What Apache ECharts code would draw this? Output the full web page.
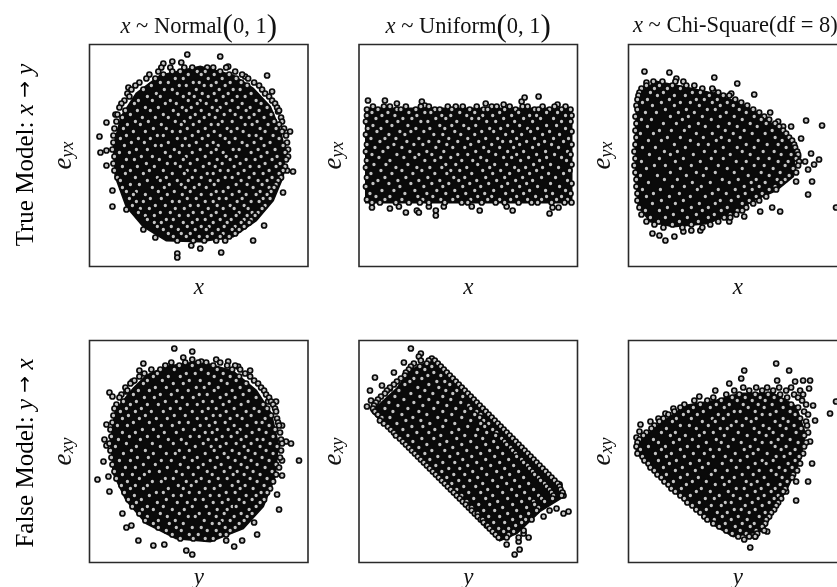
<!DOCTYPE html>
<html><head><meta charset="utf-8">
<style>html,body{margin:0;padding:0;background:#fff;overflow:hidden}#c{width:837px;height:587px}</style>
<script src="https://cdn.jsdelivr.net/npm/echarts@6/dist/echarts.min.js"></script>
</head><body><div id="c"></div>
<script>
const titles=["{i|x}{n| ~ Normal}{p|(}{n|0, 1}{p|)}","{i|x}{n| ~ Uniform}{p|(}{n|0, 1}{p|)}","{i|x}{n| ~ Chi-Square(df = 8)}"];
const rowLabels=["{n|True Model: }{i|x}{a| → }{i|y}","{n|False Model: }{i|y}{a| → }{i|x}"];
const xNames=["x","y"];
const yNames=["{e|e}{s|yx}","{e|e}{s|xy}"];

const hullA=[[71,31],[111,22],[144,31],[164,44],[181,62],[191,86],[196,106],[194,132],[184,156],[167,176],[144,192],[111,197],[77,196],[54,182],[37,162],[26,132],[24,102],[32,72],[47,49]];
const looseA=[[98,10],[131,12],[74,19],[83,17],[92,18],[139,22],[156,32],[178,31],[39,43],[183,47],[189,67],[26,70],[17,78],[201,87],[10,92],[11,108],[17,106],[17,121],[194,148],[23,146],[23,162],[37,165],[54,185],[66,193],[175,181],[164,196],[88,209],[88,213],[111,204],[132,208],[102,201],[204,127],[198,126]];
const rowsA=[[23,72,81,95,103,118,124,137],[27,69,83,91,108,116,131,146],[30,60,74,99,112,125,140,153],[34,57,66,86,94,119,133,147,159],[38,50,71,79,104,110,127,141,152,165],[41,46,62,90,97,115,122,136,158,170],[45,42,54,75,83,107,130,144,151,173],[49,38,67,88,100,113,125,139,162,176],[52,40,58,71,94,105,119,134,148,156,180],[56,35,49,63,81,99,111,127,143,167,183],[59,32,45,76,87,108,117,137,153,172,186],[63,30,56,69,93,102,123,131,149,161,178,188],[66,36,48,61,84,97,112,128,141,157,170,190],[70,28,41,74,89,106,120,135,146,165,182],[73,33,53,66,79,101,115,126,152,160,175,192],[77,27,46,59,86,95,110,133,143,168,185,193],[80,38,51,72,92,104,122,129,156,163,179,190],[84,25,34,64,77,98,116,138,148,171,187,195],[87,44,56,83,91,109,125,142,154,176,193],[91,24,37,68,74,103,119,131,160,167,184,197],[94,31,49,61,88,96,113,136,146,172,190],[98,24,42,55,79,107,124,140,153,165,181,198],[101,35,66,72,93,100,118,129,158,175,194],[105,23,47,58,85,111,127,144,150,169,186,199],[108,30,40,76,90,103,122,134,162,178,196],[112,25,52,63,81,97,116,137,147,172,188,199],[115,37,45,70,94,108,128,141,157,166,183,197],[119,24,57,78,86,101,120,133,151,176,191],[122,33,48,65,91,114,126,145,161,170,187,196],[126,25,41,60,74,98,106,131,139,155,180,194],[129,36,54,83,95,118,124,149,165,174,190],[133,28,46,68,77,103,112,136,143,160,183,192],[136,31,58,71,88,99,121,129,152,169,178,189],[140,41,50,80,92,110,125,147,158,173,187],[143,33,63,75,96,105,117,139,164,180,185],[147,37,47,69,85,101,127,134,150,171,182],[150,44,56,78,93,112,122,143,157,167,178],[154,40,61,72,98,107,130,137,153,174,181],[157,47,54,83,90,116,124,148,162,170],[161,43,66,76,101,109,128,141,155,176],[164,51,60,86,95,119,134,145,159,173],[168,49,71,81,104,113,127,150,163,169],[171,56,65,90,99,122,136,147,158,166],[175,58,77,84,108,116,131,142,155,162],[178,65,72,94,103,124,138,152,160],[182,68,82,98,112,120,135,146,155],[185,74,89,106,117,129,143,150],[189,79,92,101,123,134,146],[192,84,97,110,118,131,140],[196,88,104,115,127,136]];

const hullB=[[7,64],[213,64],[213,158],[7,158]];
const looseB=[[9,56],[26,56],[38,59],[63,57],[66,61],[127,59],[145,60],[163,57],[166,53],[180,52],[199,60],[13,163],[31,164],[40,162],[47,168],[58,166],[60,168],[70,162],[77,171],[77,166],[85,162],[121,166],[154,166],[191,169],[200,163],[194,163],[113,162],[148,162]];
const rowsB=[[62,14,25,31,47,62,70,89,97,104,118,133,138,151,164,169,184,196,207],[65,8,19,38,42,57,76,81,93,111,125,129,146,157,176,180,191,203,212],[68,13,29,50,66,72,101,116,141,160,188,199],[71,8,23,36,58,83,92,108,124,134,153,171,178,207,213],[74,17,44,53,77,87,113,120,145,165,182,195],[77,7,28,39,62,69,98,128,137,156,174,203,212],[81,14,33,49,81,93,105,117,149,161,188,198],[84,9,22,57,71,86,110,131,142,169,179,207],[87,18,41,52,65,96,123,135,154,172,191,213],[90,7,30,46,75,84,102,116,147,163,184,201],[94,12,26,37,60,90,109,127,139,158,176,195,210],[97,21,48,70,80,99,120,144,152,168,186,205],[100,8,35,55,64,88,112,133,161,180,193,213],[103,16,29,43,77,94,106,125,141,155,174,200],[107,7,24,51,68,85,117,130,149,165,187,209],[110,13,38,60,73,99,109,137,158,178,196,212],[113,20,45,56,82,92,122,145,153,170,188,203],[116,8,31,66,76,103,114,128,162,181,208],[120,15,27,49,87,97,119,136,148,175,192,213],[123,7,37,58,71,83,108,131,156,167,184,200],[126,22,43,63,92,101,124,142,160,178,211],[129,12,33,54,76,88,113,134,151,171,190,205],[133,8,26,47,69,95,106,127,146,164,183,197],[136,19,39,60,81,100,118,138,157,174,209],[139,14,30,52,73,90,111,130,149,168,192,213],[142,7,41,65,84,104,122,143,161,179,201],[146,23,35,56,78,96,116,135,154,171,187,207],[149,11,46,68,87,107,126,147,165,194,212],[152,17,31,59,74,99,119,133,158,177,188,203],[155,8,26,43,64,82,94,112,129,141,152,169,183,198,209],[158,13,21,37,50,61,70,86,103,109,123,137,146,160,173,179,193,206,213]];

const hullC=[[8,66],[13,47],[28,37],[58,43],[85,49],[112,59],[135,72],[155,89],[167,106],[165,132],[148,146],[125,156],[105,169],[78,179],[45,182],[22,177],[10,162],[7,129],[7,96]];
const looseC=[[16,27],[41,28],[86,33],[109,39],[126,50],[142,68],[178,76],[194,81],[173,94],[183,109],[191,115],[186,120],[180,125],[184,137],[180,150],[208,163],[152,167],[144,163],[116,172],[101,177],[72,186],[63,186],[55,187],[46,192],[37,196],[31,191],[24,189],[168,137],[132,167],[170,112],[177,117],[163,82],[155,82],[150,77],[103,49],[85,46],[48,34],[18,38]];
const rowsC=[[37,25,34,47,55],[41,18,31,44,58,66],[44,13,26,39,52,74,84],[48,11,22,35,64,72,90],[51,10,29,46,57,81,95,101],[55,9,19,41,68,76,89,107],[58,14,33,52,62,84,99,113],[61,8,24,46,71,92,105,119],[65,9,37,58,79,87,111,125],[68,17,28,50,66,98,118,131],[72,7,42,60,74,92,106,126,136],[75,13,23,54,83,114,133,141],[79,8,35,48,70,101,122,138,147],[82,19,61,77,90,109,129,151],[86,7,31,43,56,97,116,144,155],[89,12,25,68,84,105,124,137,158],[93,8,39,52,75,93,112,147,161],[96,20,33,62,88,101,130,154,164],[100,7,46,70,80,118,139,150,166],[103,14,27,57,95,109,126,158,167],[107,6,36,49,76,87,114,135,146,169],[110,21,42,65,102,122,153,163,170],[114,7,31,55,83,95,130,141,168],[117,13,47,72,108,118,150,160,171],[121,6,26,37,63,90,126,136,157,170],[124,18,52,78,99,114,145,165],[128,7,42,68,87,106,133,152,168],[131,12,29,58,75,120,141,161],[135,8,36,49,94,110,128,149,157],[138,20,64,82,101,123,137,153],[142,8,44,56,73,116,131,147],[145,14,32,69,90,107,124,141,148],[149,9,25,51,84,98,117,134],[152,18,41,62,77,110,128,138],[156,9,33,55,92,103,121,131],[159,24,47,71,87,114,125],[163,11,39,63,80,99,118],[166,17,31,54,74,93,109,114],[170,13,45,68,86,102,108],[173,22,37,59,80,96,102],[177,18,30,51,70,90],[180,26,44,63,82],[183,35,54,74]];

const hullD=[[77,26],[111,21],[144,31],[167,50],[182,73],[189,103],[186,136],[174,166],[154,188],[121,201],[87,198],[57,183],[37,160],[24,133],[21,100],[26,70],[44,48],[57,35]];
const looseD=[[85,8],[103,11],[94,17],[103,19],[112,21],[127,19],[139,21],[149,26],[161,30],[54,23],[50,30],[43,41],[20,52],[23,56],[37,51],[187,61],[179,61],[17,84],[15,99],[17,105],[193,85],[202,103],[197,101],[210,120],[193,120],[14,121],[8,139],[19,136],[20,151],[193,135],[188,154],[190,169],[33,173],[37,187],[42,185],[165,182],[168,194],[153,200],[145,206],[49,200],[64,205],[75,204],[103,214],[97,210],[137,200]];
const rowsD=[[22,82,96,109,117,131],[25,76,90,103,124,138,146],[29,62,71,85,112,128,143,151],[33,55,68,97,106,119,134,156],[36,50,64,79,91,125,141,150,161],[40,45,58,73,100,111,132,147,165],[43,41,54,84,94,120,138,157,169],[47,36,66,77,107,115,129,151,172],[50,38,49,60,88,99,125,143,160,175],[54,32,44,71,82,110,118,137,154,177],[57,30,55,65,93,104,131,146,167,180],[61,34,47,76,87,114,123,140,159,182],[64,27,41,58,69,98,108,134,152,174,184],[68,25,37,52,81,91,119,127,145,165,178,186],[71,31,46,62,74,103,113,137,157,170,187],[75,24,39,56,85,96,124,131,148,162,182],[78,33,50,67,78,108,117,141,153,176,188],[82,23,44,60,90,99,126,136,167,173,189],[85,28,38,72,83,111,120,145,158,180,190],[89,21,53,64,94,105,128,139,151,170,186],[92,33,46,75,87,116,123,148,163,177,191],[96,22,40,58,69,101,110,133,142,157,184],[99,29,51,79,92,119,127,152,168,174,192],[103,20,37,63,84,97,114,137,147,162,181,193],[106,26,47,71,106,122,131,155,171,188],[110,21,42,56,90,100,125,143,159,177,192],[113,34,64,77,86,116,135,150,166,184],[117,22,48,59,95,108,128,139,156,173,191],[120,30,41,72,82,103,121,146,162,180],[124,23,54,66,91,114,132,152,168,187],[127,36,46,78,99,109,126,141,158,176,190],[131,25,60,70,87,118,135,148,164,183],[134,33,43,55,93,104,123,144,155,171,187],[138,27,50,76,84,112,129,138,161,178],[141,38,63,72,97,107,120,149,168,184],[145,32,46,58,89,102,131,143,156,175],[148,41,54,79,94,116,125,151,164,181],[152,35,67,74,100,110,137,146,172,178],[155,45,60,84,92,121,130,157,167],[159,39,52,77,106,114,139,150,163,175],[162,47,68,88,98,124,133,155,171],[166,43,58,74,103,117,143,147,167],[169,53,64,83,95,128,138,160],[173,50,71,90,110,120,135,152,163],[176,58,78,99,106,127,145,158],[180,56,69,86,115,133,141,155],[183,64,80,94,123,130,150],[187,69,87,103,112,136,146],[190,77,92,118,127,141],[194,83,100,109,131,137],[198,91,104,116,124]];

const hullE=[[13,71],[38,48],[51,30],[74,19],[201,144],[205,156],[181,171],[158,193],[141,200]];
const looseE=[[8,66],[12,60],[11,50],[16,37],[23,45],[31,48],[35,32],[45,22],[52,8],[62,13],[60,16],[73,18],[205,173],[210,171],[205,155],[201,144],[198,168],[191,170],[185,176],[173,179],[170,197],[165,193],[165,190],[160,201],[160,197],[148,204],[161,209],[156,214]];
const rowsE=[[20,62,70,76],[23,55,68,79],[26,52,61,73,82],[29,50,66,85],[32,47,58,75,88],[35,46,69,82,91],[38,42,55,63,94],[41,38,51,78,86,97],[44,35,46,70,91,100],[47,31,59,80,103],[50,28,40,66,87,98,106],[53,26,52,74,94,109],[56,22,36,61,84,104,112],[59,19,45,70,92,115],[62,17,30,55,79,102,118],[65,15,39,64,88,110,121],[68,14,26,49,75,97,112,124],[71,16,34,60,84,106,118,127],[74,19,43,68,93,116,122,130],[77,23,31,54,79,103,121,133],[80,21,47,62,87,112,125,136],[83,25,38,71,96,122,130,139],[86,29,53,64,84,109,126,142],[89,32,44,76,100,119,134,145],[92,35,58,70,93,128,138,148],[95,37,49,82,106,117,137,151],[98,41,63,75,98,124,143,154],[101,44,54,88,112,135,146,157],[104,47,68,81,103,127,148,160],[107,50,60,94,118,139,152,163],[110,53,73,86,108,131,154,166],[113,56,66,99,122,144,157,169],[116,59,79,91,113,136,158,172],[119,62,71,104,127,150,163,175],[122,65,84,96,118,141,165,178],[125,68,77,109,132,155,169,181],[128,71,90,101,123,146,171,184],[131,74,83,114,138,160,174,187],[134,77,95,106,128,151,176,190],[137,80,88,119,143,165,180,193],[140,83,100,111,134,156,182,196],[143,86,93,124,148,170,186,199],[146,89,105,117,139,161,188,201],[149,92,98,129,153,175,191,202],[152,95,110,122,144,166,193,204],[155,98,103,134,158,180,195,203],[158,101,115,127,149,171,183,194],[161,104,108,139,163,175,186],[164,107,120,131,154,176],[167,110,113,144,168,180],[170,113,125,136,158,178],[173,116,119,149,170],[176,119,130,141,162],[179,122,124,154,167],[182,125,135,146,163],[185,128,129,157],[188,131,140,150],[191,134,145,155],[194,137,150],[197,140,148]];

const hullF=[[10,103],[28,86],[58,65],[88,60],[112,53],[145,53],[168,66],[177,93],[172,120],[158,150],[145,170],[135,190],[105,196],[88,186],[45,150],[15,120],[8,110]];
const looseF=[[148,23],[161,30],[116,30],[113,38],[149,40],[167,41],[175,40],[182,40],[181,48],[101,43],[87,50],[71,56],[45,68],[37,73],[30,78],[22,81],[12,84],[11,91],[8,97],[202,73],[208,61],[187,80],[185,65],[182,101],[184,123],[180,141],[168,141],[168,160],[139,191],[127,196],[116,199],[122,207],[158,151]];
const rowsF=[[47,115,128,139,151,163],[50,106,121,134,145,158,172],[54,98,111,127,140,152,166,175],[57,85,104,117,132,146,159,170],[60,66,79,93,109,124,137,153,174],[64,56,72,88,101,115,130,144,163,178],[67,52,65,82,96,120,136,155,170],[71,46,60,75,106,112,127,148,162,176],[74,40,55,69,90,100,134,142,167,180],[78,35,48,63,84,95,118,128,155,172],[81,31,44,74,87,108,123,147,160,178],[85,26,52,61,80,103,114,135,152,166,179],[88,23,38,68,92,99,126,141,158,173],[92,18,33,47,76,85,110,131,145,168,180],[95,15,42,57,71,96,119,138,154,176],[99,11,25,51,64,88,105,127,150,162],[102,9,30,45,78,93,113,134,143,170,178],[106,8,20,37,59,70,100,122,147,158,176],[109,12,33,52,82,91,116,130,153,167],[113,9,27,43,65,76,107,125,139,162,175],[116,14,38,56,85,97,119,148,156,171],[120,16,30,48,71,103,112,134,145,167],[123,20,41,62,80,94,127,138,160,172],[127,22,35,54,74,108,120,151,164],[130,26,47,67,87,99,131,143,157,169],[134,29,38,59,83,114,125,148,165],[137,33,52,70,94,106,136,154,164],[141,36,45,64,78,101,118,129,159],[144,40,58,87,96,123,140,152],[148,43,53,73,108,116,133,147,157],[151,47,68,82,100,127,143,155],[155,52,62,91,105,119,136,150],[158,56,77,86,112,130,146,153],[162,59,71,97,103,124,141,150],[165,64,83,93,117,134,148],[169,68,78,106,113,127,146],[172,72,89,99,121,137,143],[176,76,94,110,131,141],[179,79,86,103,119,138],[183,85,97,114,126,137],[186,91,107,122,134],[190,98,112,128,136],[193,104,118,129],[196,110,121,127]];

const panels=[
 {hull:hullA,loose:looseA,rows:rowsA},{hull:hullB,loose:looseB,rows:rowsB},{hull:hullC,loose:looseC,rows:rowsC},
 {hull:hullD,loose:looseD,rows:rowsD},{hull:hullE,loose:looseE,rows:rowsE},{hull:hullF,loose:looseF,rows:rowsF}];
const lefts=[89.5,359,628.5], tops=[44.5,340.5], W=218.5, H=222;
const serif='"Liberation Serif","Times New Roman",serif', ink='#111';
const grid=[],xAxis=[],yAxis=[],series=[],title=[];
panels.forEach((p,k)=>{
 const c=k%3,r=k<3?0:1;
 grid.push({left:lefts[c],top:tops[r],width:W,height:H,show:true,borderColor:'#2a2a2a',borderWidth:1.6,backgroundColor:'#fff',outerBoundsMode:'none',containLabel:false});
 const none={axisLine:{show:false},axisTick:{show:false},axisLabel:{show:false},splitLine:{show:false}};
 xAxis.push({gridIndex:k,type:'value',min:0,max:219,...none,name:xNames[r],nameLocation:'middle',nameGap:r?4:10,
   nameTextStyle:{fontFamily:serif,fontStyle:'italic',fontSize:23,color:ink}});
 yAxis.push({gridIndex:k,type:'value',min:0,max:222,inverse:true,...none,name:yNames[r],nameLocation:'middle',nameRotate:90,nameGap:12,
   nameTextStyle:{rich:{e:{fontFamily:serif,fontStyle:'italic',fontSize:27,color:ink},s:{fontFamily:serif,fontStyle:'italic',fontSize:18,color:ink,verticalAlign:'bottom',padding:[8,0,0,0]}}}});
 series.push({type:'custom',xAxisIndex:k,yAxisIndex:k,silent:true,z:2,clip:false,data:p.hull,
   renderItem(params,api){ if(params.dataIndex!==0) return; 
     return {type:'polygon',shape:{points:p.hull.map(q=>api.coord(q))},style:{fill:'#0a0a0a',stroke:'#0a0a0a',lineWidth:2}}; }});
 const pts=p.loose.concat(p.rows.flatMap(row=>row.slice(1).map(x=>[x,row[0]])));
 series.push({type:'scatter',xAxisIndex:k,yAxisIndex:k,silent:true,z:3,clip:false,data:pts,symbol:'circle',symbolSize:5,large:false,
   itemStyle:{color:'#c4c4c4',borderColor:'#0a0a0a',borderWidth:1.7,opacity:1}});
});
const titleRich={n:{fontFamily:serif,fontWeight:'normal',fontSize:22.5,color:ink},i:{fontFamily:serif,fontWeight:'normal',fontStyle:'italic',fontSize:22.5,color:ink},p:{fontFamily:serif,fontWeight:'normal',fontSize:31,color:ink}};
titles.forEach((t,c)=>title.push({text:t,left:c<2?lefts[c]+W/2:633,top:c<2?12:15,textAlign:c<2?'center':'left',padding:0,textStyle:{fontWeight:'normal',rich:titleRich}}));
const labelRich={n:{fontFamily:serif,fontSize:25,color:ink},i:{fontFamily:serif,fontStyle:'italic',fontSize:25,color:ink},a:{fontFamily:'"DejaVu Sans"',fontSize:20,color:ink}};
const graphic=rowLabels.map((t,r)=>({type:'text',x:26,y:r?453:155,rotation:Math.PI/2,silent:true,
  style:{text:t,align:'center',verticalAlign:'middle',rich:labelRich}}));
const chart=echarts.init(document.getElementById('c'),null,{renderer:'canvas',width:837,height:587});
chart.setOption({animation:false,backgroundColor:'#fff',title,grid,xAxis,yAxis,series,graphic});
</script></body></html>
